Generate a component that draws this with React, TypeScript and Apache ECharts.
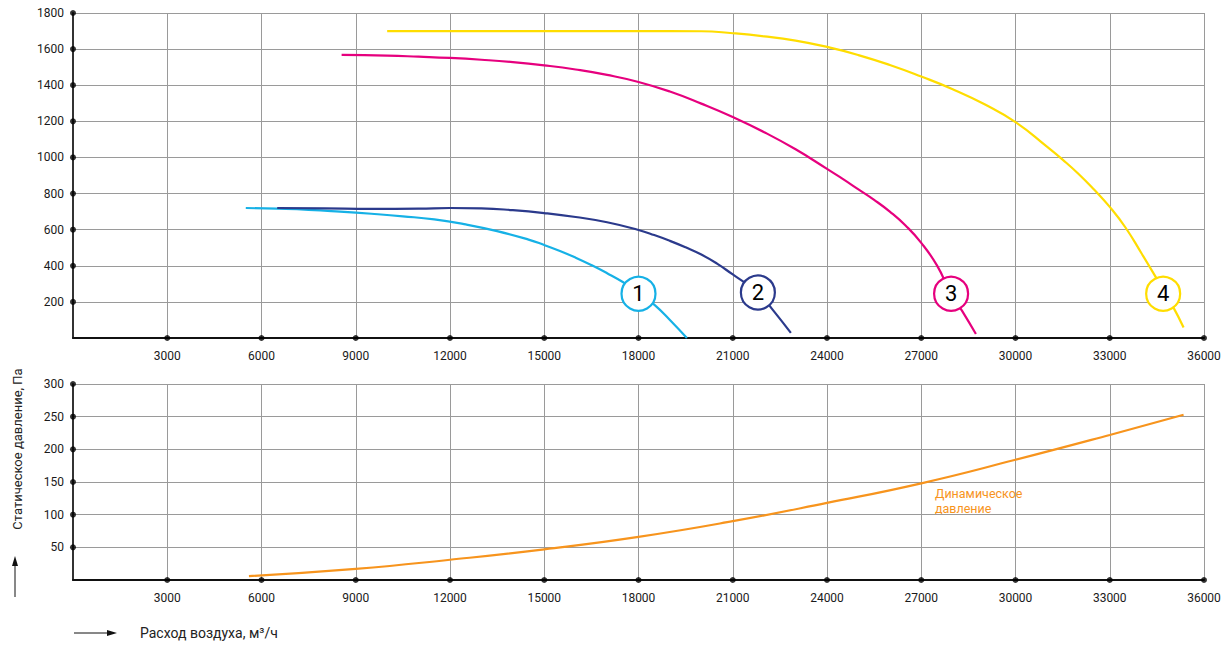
import React, { useEffect, useRef } from "react";
import * as echarts from "echarts";

const xTicks = [3000, 6000, 9000, 12000, 15000, 18000, 21000, 24000, 27000, 30000, 33000, 36000];
const yTicksTop = [200, 400, 600, 800, 1000, 1200, 1400, 1600, 1800];
const yTicksBottom = [50, 100, 150, 200, 250, 300];

const curve1: [number, number][] = [
  [5500, 720], [6500, 716], [7500, 710], [8500, 700], [9500, 688], [10500, 674],
  [11500, 657], [12500, 629], [13500, 592], [14500, 545], [15000, 515], [15500, 482],
  [16000, 445], [16500, 404], [17000, 359], [17500, 310], [18000, 252], [18500, 185],
  [19000, 100], [19540, 0],
];
const curve2: [number, number][] = [
  [6500, 720], [8000, 718], [9500, 715], [11000, 716], [12000, 720], [13000, 718],
  [14000, 708], [15000, 692], [16000, 670], [17000, 641], [18000, 598], [18500, 570],
  [19000, 538], [19500, 502], [20000, 462], [20500, 412], [21000, 352], [21400, 305],
  [21800, 255], [22300, 150], [22850, 28],
];
const curve3: [number, number][] = [
  [8550, 1568], [10000, 1564], [11000, 1558], [12000, 1551], [13000, 1541], [14000, 1528],
  [15000, 1510], [16000, 1487], [17000, 1457], [18000, 1418], [19000, 1365], [20000, 1298],
  [21000, 1224], [22000, 1140], [23000, 1045], [24000, 937], [24500, 881], [25000, 823],
  [25500, 765], [26000, 700], [26500, 623], [27000, 527], [27500, 402], [27950, 245],
  [28300, 150], [28740, 22],
];
const curve4: [number, number][] = [
  [10000, 1700], [12000, 1700], [14000, 1700], [16000, 1700], [18000, 1700], [20000, 1699],
  [21000, 1688], [22000, 1671], [23000, 1647], [24000, 1612], [25000, 1567], [26000, 1512],
  [27000, 1448], [28000, 1378], [29000, 1296], [30000, 1196], [31000, 1060], [31500, 988],
  [32000, 910], [32500, 822], [33000, 726], [33500, 612], [34000, 472], [34500, 327],
  [35000, 178], [35350, 58],
];
const dynamic: [number, number][] = [
  [5600, 6], [9000, 17], [12000, 31], [15000, 47], [18000, 66], [21000, 90],
  [24000, 118], [27000, 148], [30000, 184], [33000, 222], [35350, 253],
];
const markers: { name: string; x: number; y: number; color: string }[] = [
  { name: "1", x: 18000, y: 245, color: "#16b1e6" },
  { name: "2", x: 21800, y: 252, color: "#2b3a8c" },
  { name: "3", x: 27950, y: 245, color: "#e6007e" },
  { name: "4", x: 34700, y: 245, color: "#ffdd00" },
];

const FONT = "Roboto, 'DejaVu Sans', sans-serif";

export default function App() {
  const ref = useRef<HTMLDivElement>(null);
  useEffect(() => {
    if (!ref.current) return;
    const chart = echarts.init(ref.current, undefined, { renderer: "svg" });
    const axisLabel = { color: "#1a1a1a", fontSize: 12, fontFamily: FONT };
    const xAxisBase = (gridIndex: number) => ({
      type: "value" as const,
      gridIndex,
      min: 0,
      max: 36000,
      interval: 3000,
      axisLine: { show: true, onZero: false, lineStyle: { color: "#111", width: 2 } },
      axisTick: { show: false },
      axisLabel: { ...axisLabel, margin: 12, formatter: (v: number) => (v === 0 ? "" : String(v)) },
      splitLine: { show: true, lineStyle: { color: "#9a9a9a", width: 1 } },
    });
    const yAxisBase = (gridIndex: number, max: number, interval: number) => ({
      type: "value" as const,
      gridIndex,
      min: 0,
      max,
      interval,
      axisLine: { show: true, lineStyle: { color: "#333", width: 2 } },
      axisTick: { show: false },
      axisLabel: { ...axisLabel, margin: 9, formatter: (v: number) => (v === 0 ? "" : String(v)) },
      splitLine: { show: true, lineStyle: { color: "#9a9a9a", width: 1 } },
    });
    const dotSeries = (xi: number, data: [number, number][]) => ({
      type: "scatter" as const,
      xAxisIndex: xi,
      yAxisIndex: xi,
      data,
      symbol: "circle",
      symbolSize: 6,
      itemStyle: { color: "#000" },
      clip: false,
      silent: true,
      z: 5,
    });
    const line = (data: [number, number][], color: string, xi = 0) => ({
      type: "line" as const,
      xAxisIndex: xi,
      yAxisIndex: xi,
      data,
      smooth: 0.5,
      showSymbol: false,
      lineStyle: { color, width: 2.2 },
      z: 3,
    });
    chart.setOption({
      animation: false,
      grid: [
        { left: 73, right: 26, top: 13, height: 325 },
        { left: 73, right: 26, top: 384, height: 196 },
      ],
      xAxis: [xAxisBase(0), xAxisBase(1)],
      yAxis: [yAxisBase(0, 1800, 200), yAxisBase(1, 300, 50)],
      series: [
        line(curve1, "#16b1e6"),
        line(curve2, "#2b3a8c"),
        line(curve3, "#e6007e"),
        line(curve4, "#ffdd00"),
        line(dynamic, "#f7941d", 1),
        {
          type: "scatter",
          xAxisIndex: 0,
          yAxisIndex: 0,
          data: markers.map((m) => ({
            value: [m.x, m.y],
            itemStyle: { color: "#fff", borderColor: m.color, borderWidth: 2.2, opacity: 1 },
            label: { formatter: m.name },
          })),
          symbol: "circle",
          symbolSize: 34,
          label: {
            show: true,
            position: "inside",
            color: "#000",
            fontSize: 22,
            fontWeight: "normal",
            fontFamily: FONT,
          },
          z: 10,
          silent: true,
        },
        dotSeries(0, xTicks.map((v) => [v, 0] as [number, number])),
        dotSeries(0, yTicksTop.map((v) => [0, v] as [number, number])),
        dotSeries(1, xTicks.map((v) => [v, 0] as [number, number])),
        dotSeries(1, yTicksBottom.map((v) => [0, v] as [number, number])),
      ],
      graphic: [
        {
          type: "text",
          x: 935,
          y: 486,
          style: {
            text: "Динамическое\nдавление",
            fill: "#f7941d",
            fontSize: 12.5,
            lineHeight: 15,
            fontFamily: FONT,
          },
        },
        {
          type: "text",
          x: 17,
          y: 449,
          rotation: Math.PI / 2,
          style: {
            text: "Статическое давление, Па",
            fill: "#222",
            fontSize: 13,
            fontFamily: FONT,
            align: "center",
            verticalAlign: "middle",
          },
        },
        { type: "line", shape: { x1: 15, y1: 597, x2: 15, y2: 565 }, style: { stroke: "#111", lineWidth: 1 } },
        { type: "polygon", shape: { points: [[12, 566], [18, 566], [15, 556]] }, style: { fill: "#111" } },
        { type: "line", shape: { x1: 74, y1: 633, x2: 108, y2: 633 }, style: { stroke: "#111", lineWidth: 1 } },
        { type: "polygon", shape: { points: [[107, 630], [107, 636], [117, 633]] }, style: { fill: "#111" } },
        {
          type: "text",
          x: 140,
          y: 633,
          style: {
            text: "Расход воздуха, м³/ч",
            fill: "#222",
            fontSize: 14,
            fontFamily: FONT,
            verticalAlign: "middle",
          },
        },
      ],
    });
    return () => chart.dispose();
  }, []);
  return (
    <div
      ref={ref}
      style={{ position: "fixed", left: 0, top: 0, width: 1230, height: 647, background: "#fff" }}
    />
  );
}
